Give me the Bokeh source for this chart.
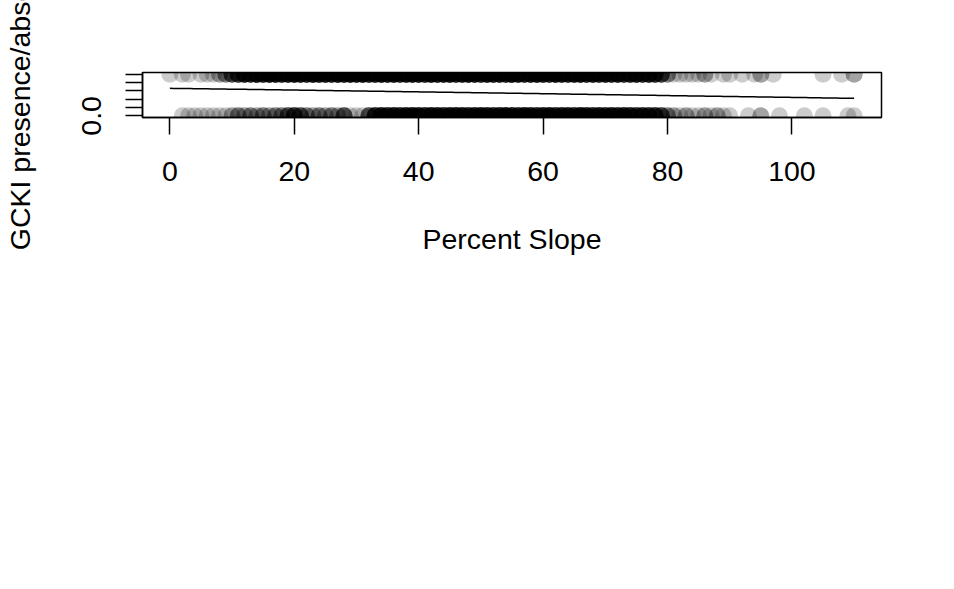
import numpy as np
from bokeh.plotting import figure
from bokeh.models import Range1d, FixedTicker, ColumnDataSource, CustomJSTickFormatter
from bokeh.embed import file_html
from bokeh.resources import INLINE

# ---- data ----
slopes = list(range(0, 111))  # percent slope, 0..110

# number of sites with GCKI present (y = 1) at each percent slope
presence_counts = [
    1, 0, 1, 1, 0, 1, 1, 1, 2, 3,          # 0-9
    5, 7, 9, 8, 10, 9, 11, 10, 9, 10,      # 10-19
    11, 10, 9, 11, 10, 10, 9, 11, 10, 11,  # 20-29
    10, 11, 9, 10, 11, 10, 11, 9, 10, 11,  # 30-39
    10, 9, 11, 10, 10, 11, 9, 10, 11, 10,  # 40-49
    9, 11, 10, 10, 9, 11, 10, 9, 10, 11,   # 50-59
    10, 9, 11, 10, 9, 10, 11, 9, 10, 9,    # 60-69
    10, 9, 10, 8, 9, 10, 8, 9, 8, 6,       # 70-79
    3, 1, 1, 1, 1, 1, 2, 1, 0, 1,          # 80-89
    1, 0, 1, 0, 1, 2, 0, 1, 0, 0,          # 90-99
    0, 0, 0, 0, 0, 1, 0, 0, 1, 0, 2,       # 100-110
]

# number of sites with GCKI absent (y = 0) at each percent slope
absence_counts = [
    0, 0, 1, 1, 1, 1, 1, 1, 1, 1,          # 0-9
    2, 3, 2, 3, 2, 3, 2, 3, 3, 5,          # 10-19
    7, 5, 3, 2, 3, 2, 3, 2, 5, 1,          # 20-29
    1, 1, 5, 8, 10, 9, 10, 9, 10, 11,      # 30-39
    10, 9, 11, 10, 9, 10, 11, 10, 9, 10,   # 40-49
    11, 10, 9, 10, 11, 10, 9, 11, 10, 9,   # 50-59
    10, 11, 9, 10, 10, 9, 11, 10, 9, 10,   # 60-69
    9, 10, 9, 10, 9, 8, 9, 8, 8, 6,        # 70-79
    3, 2, 1, 2, 1, 1, 2, 1, 2, 1,          # 80-89
    1, 0, 0, 1, 0, 2, 0, 0, 1, 0,          # 90-99
    0, 0, 1, 0, 0, 1, 0, 0, 0, 1, 1,       # 100-110
]

# fitted logistic regression (presence ~ slope)
fit_intercept = 0.663
fit_slope = -0.00896

x_ticks = [0, 20, 40, 60, 80, 100]
y_ticks = [0.0, 0.2, 0.4, 0.6, 0.8, 1.0]
x_label = "Percent Slope"
y_label = "GCKI presence/absence"

# ---- build sources ----
pres_x = np.repeat(slopes, presence_counts)
abs_x = np.repeat(slopes, absence_counts)
pts = ColumnDataSource(dict(
    x=np.concatenate([pres_x, abs_x]),
    y=np.concatenate([np.ones(len(pres_x)), np.zeros(len(abs_x))]),
))
all_x = np.concatenate([pres_x, abs_x])
fx = np.linspace(all_x.min(), all_x.max(), 200)
fy = 1.0 / (1.0 + np.exp(-(fit_intercept + fit_slope * fx)))
fit = ColumnDataSource(dict(x=fx, y=fy))

FONT = "Liberation Sans"
FS = "28.5px"

p = figure(
    width=954, height=589,
    x_range=Range1d(-4.4, 114.4), y_range=Range1d(-0.04, 1.04),
    output_backend="svg", toolbar_location=None,
    min_border_left=142, min_border_right=73,
    min_border_top=72, min_border_bottom=472,
    background_fill_color="white", border_fill_color="white",
)
p.grid.visible = False
p.outline_line_color = "black"
p.outline_line_width = 1.5

p.scatter("x", "y", source=pts, size=17, fill_color="black",
          fill_alpha=0.2, line_color=None)
p.line("x", "y", source=fit, line_color="black", line_width=1.5)

# x axis
xa = p.xaxis[0]
xa.ticker = FixedTicker(ticks=x_ticks)
xa.axis_label = x_label
xa.major_tick_out = 17
xa.major_tick_in = 0
xa.minor_tick_line_color = None
xa.major_tick_line_width = 1.5
xa.axis_line_width = 1.5
xa.major_label_standoff = 27
xa.axis_label_standoff = 39

# y axis
ya = p.yaxis[0]
ya.ticker = FixedTicker(ticks=y_ticks)
ya.formatter = CustomJSTickFormatter(code='return tick == 0 ? "0.0" : "";')
ya.axis_label = y_label
ya.major_tick_out = 17
ya.major_tick_in = 0
ya.minor_tick_line_color = None
ya.major_tick_line_width = 1.5
ya.axis_line_width = 1.5
ya.major_label_orientation = "vertical"
ya.major_label_standoff = 24
ya.axis_label_standoff = 44

for ax in (xa, ya):
    ax.major_label_text_font = FONT
    ax.major_label_text_font_size = FS
    ax.major_label_text_color = "black"
    ax.axis_label_text_font = FONT
    ax.axis_label_text_font_size = FS
    ax.axis_label_text_font_style = "normal"
    ax.axis_label_text_color = "black"
    ax.axis_line_color = "black"
    ax.major_tick_line_color = "black"

open("out.html", "w").write(file_html(p, INLINE))
